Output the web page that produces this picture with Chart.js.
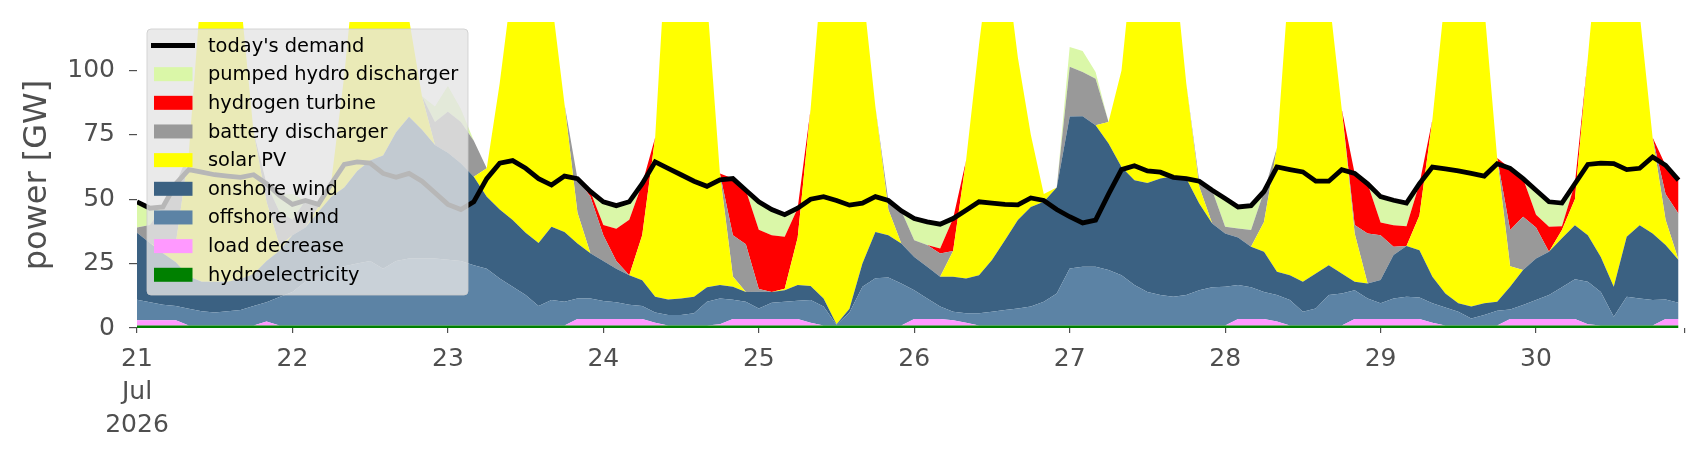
<!DOCTYPE html>
<html>
<head>
<meta charset="utf-8">
<title>power [GW]</title>
<script src="https://cdn.jsdelivr.net/npm/chart.js@4.4.1/dist/chart.umd.min.js"></script>
<style>
    html, body { margin: 0; padding: 0; background: #fff; overflow: hidden; }
    #wrap { width: 1706px; height: 460px; position: relative; }
</style>
</head>
<body>
<div id="wrap"><canvas id="powerChart"></canvas></div>
<script>
// hours since 21 Jul 2026 00:00, two-hourly samples
const hours = [
    0, 2, 4, 6, 8, 10, 12, 14, 16, 18, 20, 22,
    24, 26, 28, 30, 32, 34, 36, 38, 40, 42, 44, 46,
    48, 50, 52, 54, 56, 58, 60, 62, 64, 66, 68, 70,
    72, 74, 76, 78, 80, 82, 84, 86, 88, 90, 92, 94,
    96, 98, 100, 102, 104, 106, 108, 110, 112, 114, 116, 118,
    120, 122, 124, 126, 128, 130, 132, 134, 136, 138, 140, 142,
    144, 146, 148, 150, 152, 154, 156, 158, 160, 162, 164, 166,
    168, 170, 172, 174, 176, 178, 180, 182, 184, 186, 188, 190,
    192, 194, 196, 198, 200, 202, 204, 206, 208, 210, 212, 214,
    216, 218, 220, 222, 224, 226, 228, 230, 232, 234, 236, 238
];
const xMax = 239;

const dayTicks = [0, 24, 48, 72, 96, 120, 144, 168, 192, 216];
const dayLabels = [['21', 'Jul', '2026'], '22', '23', '24', '25', '26', '27', '28', '29', '30'];
const yTicks = [0, 25, 50, 75, 100];

const hydroelectricity = [
    1, 1, 1, 1, 1, 1, 1, 1, 1, 1, 1, 1,
    1, 1, 1, 1, 1, 1, 1, 1, 1, 1, 1, 1,
    1, 1, 1, 1, 1, 1, 1, 1, 1, 1, 1, 1,
    1, 1, 1, 1, 1, 1, 1, 1, 1, 1, 1, 1,
    1, 1, 1, 1, 1, 1, 1, 1, 1, 1, 1, 1,
    1, 1, 1, 1, 1, 1, 1, 1, 1, 1, 1, 1,
    1, 1, 1, 1, 1, 1, 1, 1, 1, 1, 1, 1,
    1, 1, 1, 1, 1, 1, 1, 1, 1, 1, 1, 1,
    1, 1, 1, 1, 1, 1, 1, 1, 1, 1, 1, 1,
    1, 1, 1, 1, 1, 1, 1, 1, 1, 1, 1, 1
];
const loadDecrease = [
    2, 2, 2, 2, 0, 0, 0, 0, 0, 0, 1.5, 0,
    0, 0, 0, 0, 0, 0, 0, 0, 0, 0, 0, 0,
    0, 0, 0, 0, 0, 0, 0, 0, 0, 0, 2.5, 2.5,
    2.5, 2.5, 2.5, 2.5, 1, 0, 0, 0, 0, 0.5, 2.5, 2.5,
    2.5, 2.5, 2.5, 2.5, 1, 0, 0, 0, 0, 0, 0, 0,
    2.5, 2.5, 2.5, 2, 1, 0, 0, 0, 0, 0, 0, 0,
    0, 0, 0, 0, 0, 0, 0, 0, 0, 0, 0, 0,
    0, 2.5, 2.5, 2.5, 1.5, 0, 0, 0, 0, 0, 2.5, 2.5,
    2.5, 2.5, 2.5, 2.5, 1, 0, 0, 0, 0, 0, 2.5, 2.5,
    2.5, 2.5, 2.5, 2.5, 0.5, 0, 0, 0, 0, 0, 2.5, 2.5
];
const offshoreWind = [
    8, 7, 6, 5.5, 6.5, 5.5, 5, 5.5, 6, 7.5, 7.5, 11,
    13, 17, 19, 21, 23, 24, 25, 22, 25, 26, 26, 26,
    25.5, 25, 23.4, 22, 18.2, 15, 11.8, 7.5, 9.9, 9.2, 8, 8,
    7, 6.5, 5.5, 5, 4, 4, 4, 4.7, 9.2, 10, 7.5, 6.7,
    4.1, 6.3, 6.7, 7.1, 8.9, 7.3, 0.3, 5, 15, 18.3, 18.6, 16.3,
    11.2, 8, 4.8, 3.3, 3.7, 4.7, 5.3, 6, 6.6, 7.3, 9.2, 12.4,
    22.1, 22.8, 22.8, 21.5, 19.5, 15.7, 13, 11.8, 11.1, 11.8, 13.7, 14.8,
    15, 13.2, 12.3, 10.5, 10.3, 9.9, 5.3, 6.6, 11.8, 12.4, 11.2, 8,
    6.1, 8, 8.6, 8.3, 7.6, 7, 5.3, 2.7, 4, 5.7, 3.7, 5.4,
    7.4, 9.3, 12.3, 15.4, 16.5, 13, 3.4, 11.1, 10.5, 9.9, 7.6, 6.3
];
const onshoreWind = [
    26, 23, 20, 17, 12.5, 11.5, 12, 11.5, 12, 12.5, 16, 18,
    22, 21, 25, 29, 30.5, 36, 39, 44, 50, 55, 50, 44,
    41.5, 38, 34.3, 28, 26.8, 25.9, 24.2, 24.5, 28.4, 27.1, 21.3, 17.5,
    15.5, 13, 11.5, 10, 6.1, 6.1, 6.5, 6.4, 5.6, 5.2, 5, 3.8,
    6.5, 4.2, 4.5, 6.1, 5.4, 3.2, 0.2, 1.5, 9, 18, 16.4, 15.5,
    12.9, 12.3, 11.6, 13.6, 13.5, 14.8, 20.1, 27.1, 34.3, 38.7, 38.8, 41.1,
    59, 58.4, 54.9, 49.1, 42, 40.7, 42.3, 45.2, 46.8, 45.2, 33.6, 24.8,
    20.7, 18.4, 15.7, 15.6, 9, 9.6, 11.7, 13.6, 11.6, 7.8, 3.3, 5.8,
    9, 16.8, 19.7, 18.4, 10.3, 5.4, 3.3, 4.6, 4.6, 3.5, 8.8, 13.6,
    16.1, 16.8, 19, 21, 18, 13.6, 11.6, 23.3, 28.4, 25.8, 21.1, 16.6
];
const solarPV = [
    0, 0, 1, 7.5, 48, 117, 165, 160, 109, 55, 23, 2,
    0, 0, 2, 6, 43.5, 89, 110, 103, 74, 38, 13, 0,
    0, 0, 0, 11, 49, 93, 123, 122, 88.7, 49.7, 12, 0,
    0, 0, 0, 17.5, 61.9, 148.9, 173.5, 152.9, 112.2, 43.3, 4, 0,
    0, 0, 0.5, 18.3, 68.7, 134.5, 173.5, 162.5, 108, 48.7, 10, 0,
    0, 0, 0, 10, 45.8, 89.5, 123.6, 110.9, 63.1, 28, 3, 0,
    0, 0, 0, 8.4, 37.5, 92.6, 118.7, 112, 86.1, 37, 6.5, 0,
    0, 0, 0, 11.6, 48.2, 119.5, 162, 153.8, 105.6, 63.8, 18.7, 0,
    0, 0, 0, 13.5, 61, 116.6, 160.4, 156.7, 115.4, 55.8, 8, 0,
    0, 0, 3.2, 10.1, 69, 132.4, 162, 129.6, 82.1, 37.3, 9.8, 0
];
const batteryDischarger = [
    2, 7, 17, 23, 0, 0, 0, 0, 0, 0, 7, 13,
    6, 10.5, 1, 0, 0, 0, 0, 0, 0, 0, 0, 9,
    16, 16, 14, 0, 0, 0, 0, 0, 0, 0, 13.2, 22,
    10, 3, 0, 0, 0, 0, 0, 0, 0, 0, 16, 18.5,
    1, 0, 0, 0, 0, 0, 0, 0, 0, 0, 3.5, 12.7,
    6.5, 8.4, 9, 0, 0, 0, 0, 0, 0, 0, 0, 0,
    19.3, 17.2, 18.1, 0, 0, 0, 0, 0, 0, 0, 2.2, 12.9,
    2.6, 3.5, 6.5, 11.8, 0, 0, 0, 0, 0, 0, 3.3, 19.4,
    17.4, 3.2, 0, 0, 0, 0, 0, 0, 0, 0, 14, 20.7,
    12, 0, 0, 0, 0, 0, 0, 0, 0, 0, 10, 18
];
const hydrogenTurbine = [
    0, 0, 0, 0, 0, 0, 0, 0, 0, 0, 0, 0,
    0, 0, 0, 0, 0, 0, 0, 0, 0, 0, 0, 0,
    0, 0, 0, 0, 0, 0, 0, 0, 0, 0, 0, 2,
    4, 12.5, 21.5, 20, 0, 0, 0, 0, 0, 0, 22, 21,
    23, 22, 20.2, 11.5, 0, 0, 0, 0, 0, 0, 0, 0,
    0, 0, 2, 12.6, 0, 0, 0, 0, 0, 0, 0, 0,
    0, 0, 0, 0, 0, 0, 0, 0, 0, 0, 0, 0,
    0, 0, 0, 0, 0, 0, 0, 0, 0, 0, 20, 19.3,
    5, 8.4, 7.7, 12.3, 0, 0, 0, 0, 0, 0, 24, 14.8,
    5, 9.7, 1.5, 6, 0, 0, 0, 0, 0, 0, 11.2, 13
];
const pumpedHydroDischarger = [
    10, 6.5, 0, 0, 0, 0, 0, 0, 0, 0, 0, 6.5,
    10, 0, 0, 0, 0, 0, 0, 0, 0, 0, 0, 6,
    10, 5, 0, 0, 0, 0, 0, 0, 0, 0, 0, 0,
    9, 9, 7, 0, 0, 0, 0, 0, 0, 0, 0, 0,
    10.9, 10, 8.6, 0, 0, 0, 0, 0, 0, 0, 0, 0,
    8.4, 9, 9.4, 0, 0, 0, 0, 0, 0, 0, 0, 0,
    7.7, 8.1, 2.6, 0, 0, 0, 0, 0, 0, 0, 0, 0,
    11, 8.4, 9.5, 0, 0, 0, 0, 0, 0, 0, 0, 0,
    10, 9.7, 9, 0, 0, 0, 0, 0, 0, 0, 0, 0,
    9.5, 9.7, 9, 0, 0, 0, 0, 0, 0, 0, 0, 0
];
const todaysDemand = [
    49, 46.5, 47, 56, 61.5, 60.5, 59.5, 59, 58.5, 59.5, 56, 51.5,
    48, 49.5, 48, 56, 63.5, 64.5, 64, 60, 58.5, 60, 57, 52.5,
    48, 46, 49, 58, 64, 65, 62, 58, 55.5, 59, 58, 53,
    49, 47.5, 49, 56, 64.5, 62, 59.5, 57, 55, 57.5, 58, 53.5,
    49, 46, 44, 46.5, 50, 51, 49.5, 47.7, 48.5, 51, 49.5, 45.5,
    42.5, 41.2, 40.3, 42.5, 45.7, 49, 48.5, 48, 47.8, 50.5, 49.5, 46,
    43.2, 40.8, 41.9, 52, 61.5, 63, 61, 60.5, 58.5, 58, 57, 53.5,
    50.3, 47, 47.5, 53, 62.5, 61.5, 60.6, 57, 57, 61.5, 60, 56,
    51, 49.6, 48.5, 56, 62.5, 61.8, 61, 60, 59, 63.8, 62, 58,
    53.5, 49, 48.5, 56, 63.5, 64, 63.8, 61.5, 62, 66.4, 63.2, 57.4
];

// stacked from the bottom up
const areas = [
    { label: 'hydroelectricity', data: hydroelectricity, color: '#008000' },
    { label: 'load decrease', data: loadDecrease, color: '#ff99ff' },
    { label: 'offshore wind', data: offshoreWind, color: '#5c83a5' },
    { label: 'onshore wind', data: onshoreWind, color: '#3b6182' },
    { label: 'solar PV', data: solarPV, color: '#ffff00' },
    { label: 'battery discharger', data: batteryDischarger, color: '#999999' },
    { label: 'hydrogen turbine', data: hydrogenTurbine, color: '#ff0000' },
    { label: 'pumped hydro discharger', data: pumpedHydroDischarger, color: '#daf7a8' }
];

const datasets = areas.map((a, i) => ({
    label: a.label,
    data: a.data,
    stack: 'supply',
    backgroundColor: a.color,
    borderColor: a.color,
    borderWidth: 0,
    fill: i === 0 ? 'origin' : '-1',
    pointRadius: 0,
    pointHoverRadius: 0,
    tension: 0
}));

datasets.push({
    label: "today's demand",
    data: todaysDemand,
    stack: 'demand',
    borderColor: '#000000',
    borderWidth: 4.8,
    fill: false,
    pointRadius: 0,
    pointHoverRadius: 0,
    tension: 0,
    order: -1
});

const tickColor = '#4f4f4f';

// matplotlib-like legend box sitting over the plot
const legendBox = {
    id: 'legendBox',
    afterDraw(chart) {
        const { ctx, chartArea } = chart;
        const left = chartArea.left + 10;
        const top = chartArea.top + 7;
        const w = 321, h = 266, r = 4;

        ctx.save();
        ctx.beginPath();
        ctx.roundRect(left, top, w, h, r);
        ctx.fillStyle = 'rgba(229,229,229,0.8)';
        ctx.fill();
        ctx.strokeStyle = 'rgba(204,204,204,0.8)';
        ctx.lineWidth = 1;
        ctx.stroke();

        const entries = [datasets[datasets.length - 1]].concat(datasets.slice(0, -1).reverse());
        ctx.font = '19.4px "DejaVu Sans"';
        ctx.textBaseline = 'middle';
        ctx.textAlign = 'left';
        entries.forEach((ds, i) => {
            const cy = top + 16.5 + i * 28.66;
            if (ds.fill === false) {
                ctx.beginPath();
                ctx.moveTo(left + 4, cy);
                ctx.lineTo(left + 48, cy);
                ctx.strokeStyle = ds.borderColor;
                ctx.lineWidth = 4.8;
                ctx.stroke();
            } else {
                ctx.fillStyle = ds.backgroundColor;
                ctx.fillRect(left + 7, cy - 7, 38.5, 14);
            }
            ctx.fillStyle = '#000000';
            ctx.fillText(ds.label, left + 61, cy + 1);
        });
        ctx.restore();
    }
};

const ctx = document.getElementById('powerChart').getContext('2d');
new Chart(ctx, {
    type: 'line',
    data: { labels: hours, datasets: datasets },
    options: {
        responsive: true,
        maintainAspectRatio: false,
        animation: false,
        events: [],
        layout: { autoPadding: false, padding: { top: 22, right: 21, left: 0, bottom: 0 } },
        plugins: {
            legend: { display: false },
            tooltip: { enabled: false }
        },
        scales: {
            x: {
                type: 'linear',
                min: 0,
                max: xMax,
                offset: false,
                border: { display: false },
                grid: { drawOnChartArea: false, drawTicks: true, tickLength: 5, color: tickColor, lineWidth: 1.2 },
                afterBuildTicks: (scale) => {
                    scale.ticks = dayTicks.concat([xMax]).map(v => ({ value: v }));
                },
                afterFit: (scale) => {
                    scale.height = 132;
                    scale.paddingLeft = 0;
                    scale.paddingRight = 0;
                },
                ticks: {
                    autoSkip: false,
                    maxRotation: 0,
                    padding: 10,
                    color: tickColor,
                    font: { family: 'DejaVu Sans', size: 25, lineHeight: 1.32 },
                    callback: (value) => {
                        const i = dayTicks.indexOf(value);
                        return i >= 0 ? dayLabels[i] : '';
                    }
                }
            },
            y: {
                stacked: true,
                min: 0,
                max: 118.8,
                border: { display: false },
                grid: { drawOnChartArea: false, drawTicks: true, tickLength: 8, color: tickColor, lineWidth: 1.2 },
                afterBuildTicks: (scale) => {
                    scale.ticks = yTicks.map(v => ({ value: v }));
                },
                afterFit: (scale) => {
                    scale.width = 137;
                    scale.paddingTop = 0;
                    scale.paddingBottom = 0;
                },
                ticks: {
                    padding: 14,
                    color: tickColor,
                    font: { family: 'DejaVu Sans', size: 25 }
                },
                title: {
                    display: true,
                    text: 'power [GW]',
                    color: tickColor,
                    padding: { top: 18, bottom: 0 },
                    font: { family: 'DejaVu Sans', size: 32, lineHeight: 1.2 }
                }
            }
        }
    },
    plugins: [legendBox]
});
</script>
</body>
</html>
